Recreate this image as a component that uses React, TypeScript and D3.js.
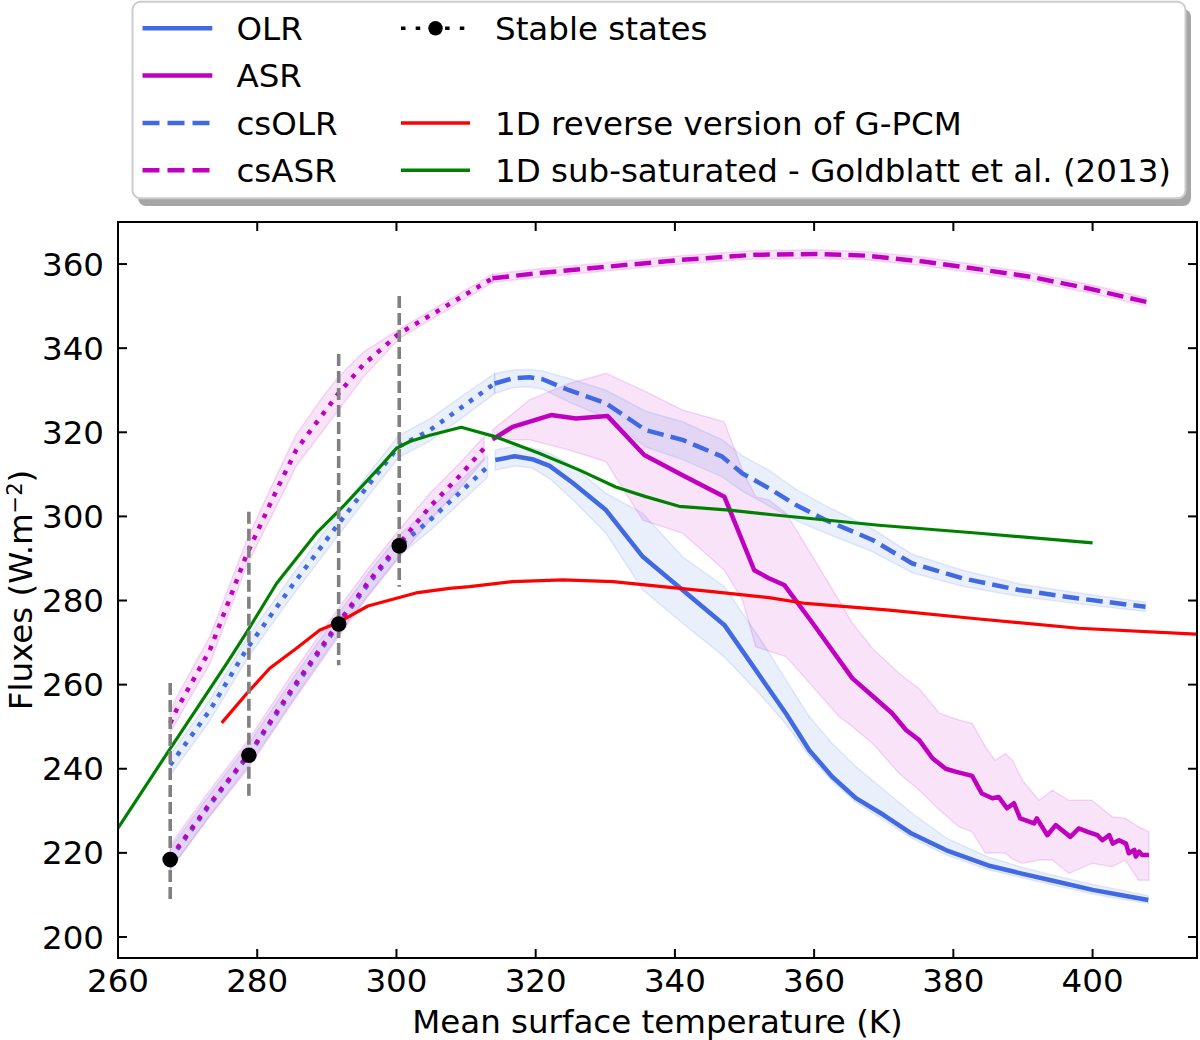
import * as d3 from 'd3';

// ---- data ----
// OLR, cold (dotted) branch
const olrColdT = [267.5, 273, 278.8, 285, 291.7, 296, 300.4, 304.8, 309, 313.1];
const olrCold = [218.5, 231, 243.3, 258.5, 274.4, 284, 293, 299.1, 305.5, 311.8];
const olrColdHi = [221, 233.5, 246, 261.2, 277, 286.6, 295.6, 301.8, 308.2, 314.5];
const olrColdLo = [216, 228.5, 240.8, 256, 272, 281.5, 290.6, 296.6, 303, 309.3];

// OLR, warm (solid) branch
const olrWarmT = [314.2, 317, 319.5, 322, 325.3, 330.1, 335.4, 341.1, 347.1, 352.6, 356, 359.3, 362.6, 366, 370, 374, 379, 385, 390, 394, 400, 404, 408];
const olrWarm = [313.4, 314.3, 313.6, 312, 308, 301.5, 290.4, 282.5, 274.2, 261.1, 253, 244.4, 238.1, 233, 229, 224.6, 220.6, 217, 215, 213.5, 211.2, 210, 208.8];
const olrWarmHi = [315.8, 316.7, 316.3, 315, 312, 305.5, 300.7, 290.4, 283.3, 270, 261, 252.4, 246, 240.5, 235, 229.5, 223.5, 219, 216.5, 214.8, 212.5, 211.2, 209.8];
const olrWarmLo = [311, 312, 311.5, 309, 304, 296, 282.5, 274.6, 266.6, 257, 250.5, 243, 237, 232, 227.8, 223.5, 219.5, 216, 214, 212.5, 210.2, 209, 208];

// ASR, cold (dotted) branch
const asrColdT = [267.5, 273, 278.8, 285, 291.7, 296, 300.4, 304.8, 309, 312.6];
const asrCold = [218.8, 231.3, 243.5, 259, 274.8, 284.5, 293.5, 302.3, 309.5, 316.2];
const asrColdHi = [221.8, 234.5, 247, 262.5, 278.2, 287.8, 296.8, 305.5, 312.5, 319];
const asrColdLo = [216, 228.3, 240.3, 255.6, 271.4, 281.2, 290.3, 299, 306.5, 313.4];

// ASR, warm (solid) branch
const asrWarmT = [313.8, 316.7, 322.2, 325.8, 330.3, 335.6, 341.1, 347.1, 351.4, 353.5, 355.7, 359.8, 365.5, 368.4, 371.2, 373.2, 375.1, 377, 378.9, 380.3, 382.7, 384.1, 385.6, 386.5, 387.7, 388.7, 389.6, 391.6, 392, 393.5, 394.7, 396.8, 398, 399.3, 400.7, 401.4, 402.4, 402.9, 403.8, 404.8, 405.2, 406, 406.2, 406.7, 407.1, 408.1];
const asrWarm = [318.3, 321.3, 324.1, 323.3, 323.9, 314.6, 309.8, 304.7, 287.2, 285.3, 283.7, 274.6, 261.5, 257.3, 253.2, 249.2, 246.8, 242.5, 240, 239.3, 238.3, 234.1, 233, 233.3, 230.6, 231.8, 228.2, 227, 228.2, 224.2, 226.6, 223.8, 225.8, 225, 224.2, 223, 224.2, 222.2, 223, 222.2, 219.9, 220.7, 219.1, 220.3, 219.5, 219.5];
const asrBandT = [313.8, 319.1, 324.8, 330.1, 335.4, 341.1, 347.1, 349.7, 351.6, 353.5, 356, 359.8, 363.6, 365.5, 368.4, 372.2, 375.1, 378, 380.8, 382.7, 384.6, 386, 387.5, 388.5, 389.9, 392.3, 394.2, 396.6, 399.9, 402.8, 404.7, 406.6, 408.1];
const asrBandHi = [320.5, 327.7, 331.6, 334, 330, 325.3, 322.5, 311, 304.7, 303.9, 300.7, 290.4, 280, 274.6, 268.6, 262.7, 259, 253.2, 251.6, 250.8, 245.2, 242, 243.6, 242, 237.3, 232.5, 234.9, 232.5, 232.5, 228.6, 228.2, 226.2, 225];
const asrBandLo = [318.2, 318.2, 315.8, 313, 299.1, 296, 287.2, 280.1, 269, 268, 266.6, 259.5, 252.4, 250, 246, 238.9, 234.9, 230.2, 226.2, 225, 219.9, 220, 219.9, 218.5, 217.5, 218.3, 218.3, 215.1, 217.5, 216.7, 218.3, 213.5, 213.5];

// clear-sky OLR
const csolrColdT = [267.5, 273.2, 278.5, 285, 291.7, 296, 300.3, 304.8, 309.5, 314.1];
const csolrCold = [240.9, 253.9, 268.5, 283.5, 298.3, 307.5, 316.6, 320.5, 326.1, 331.6];
const csolrColdHi = [243.4, 256.4, 271, 286, 301, 310.2, 319.2, 323.2, 328.7, 334];
const csolrColdLo = [238.4, 251.4, 266, 281, 295.6, 304.9, 314, 317.9, 323.5, 329.2];
const csolrWarmT = [314.1, 316.7, 319.1, 321, 324.8, 330.1, 335.8, 341.1, 346.8, 349.7, 353.5, 357.4, 361.7, 368.4, 374.1, 381.3, 389.4, 398, 407.6];
const csolrWarm = [331.6, 332.8, 333.1, 332.6, 330, 326.9, 320.5, 318.2, 314.2, 310.2, 306.7, 302.7, 299.1, 294.4, 288.8, 285.3, 282.5, 280.5, 278.5];
const csolrWarmHi = [334, 334.8, 334.9, 334.6, 332.8, 330, 325, 322.5, 318.2, 314.4, 311, 306.4, 302.5, 297, 291, 287.2, 284, 281.8, 279.6];
const csolrWarmLo = [329.2, 330.6, 330.8, 330.3, 327.2, 323.5, 316.5, 313.5, 309.4, 306, 302.5, 299, 296, 291.6, 286.6, 283.4, 281, 279.2, 277.4];

// clear-sky ASR
const csasrColdT = [267.5, 268.4, 273.2, 278.5, 282.8, 285.6, 289.5, 291.7, 295.2, 300.4, 306.2, 313.8];
const csasrCold = [250.8, 254, 268.2, 291, 306.3, 315.8, 324.5, 329.3, 336, 343.5, 349.1, 356.6];
const csasrColdHi = [253.5, 257, 271.5, 294.4, 309.8, 319.5, 328.6, 333.2, 339, 344.5, 350.2, 357.6];
const csasrColdLo = [248.5, 251.2, 265, 288.3, 302.5, 312, 320.5, 325.3, 333, 342.3, 348, 355.6];
const csasrWarmT = [313.8, 320.1, 330.5, 341, 351.4, 360.1, 367.4, 375.7, 382.7, 391, 399.4, 407.7];
const csasrWarm = [356.6, 357.8, 359.4, 361, 362.2, 362.4, 362, 360.6, 359, 357, 354.2, 351];
const csasrWarmHi = [357.6, 358.8, 360.4, 362, 363.2, 363.4, 363, 361.6, 360, 358, 355.2, 352];
const csasrWarmLo = [355.6, 356.8, 358.4, 360, 361.2, 361.4, 361, 359.6, 358, 356, 353.2, 350];

// 1D reverse version of G-PCM
const reverseT = [274.9, 278.5, 281.8, 285.6, 289, 291.8, 295.9, 302.8, 307.6, 310.5, 316.7, 323.9, 331.1, 338.2, 345.4, 353.5, 358.8, 370.8, 383.7, 398, 414.8, 420];
const reverse1D = [250.9, 257.9, 263.9, 268.6, 273, 274.9, 278.7, 281.8, 282.9, 283.3, 284.5, 284.9, 284.5, 283.3, 282.1, 280.7, 279.3, 277.7, 275.6, 273.4, 272, 271.7];

// 1D sub-saturated - Goldblatt et al. (2013)
const goldT = [260, 267.5, 275.6, 278.5, 282.8, 288.5, 292.3, 298.1, 300, 301.9, 304.8, 309.3, 314.3, 320.5, 326.3, 331.5, 335.8, 340.6, 347.8, 354, 369.3, 383.7, 400];
const goldblatt = [225.9, 244.8, 265, 272.5, 284.1, 296, 302.3, 312.6, 316.2, 317.8, 319.3, 321.2, 318.9, 315, 311, 307, 304.7, 302.4, 301.5, 300.4, 297.9, 296, 293.7];

// stable states and their ranges
const stableT = [267.5, 278.8, 291.7, 300.4];
const stableFlux = [218.4, 243.2, 274.4, 293];
const stableLo = [208.3, 233.3, 264.6, 283.3];
const stableHi = [260.4, 301.1, 338.6, 352.4];

const xTicks = [260, 280, 300, 320, 340, 360, 380, 400];
const yTicks = [200, 220, 240, 260, 280, 300, 320, 340, 360];

const W = 1200;
const H = 1040;
const BLUE = '#4169e1';
const MAG = '#bf00bf';
const FONT = "'DejaVu Sans', sans-serif";

export default function App() {
  const left = 118, right = 1197, top = 222, bottom = 958;
  const x = d3.scaleLinear().domain([260, 415]).range([left, right]);
  const y = d3.scaleLinear().domain([195, 370]).range([bottom, top]);

  const path = (ts: number[], vs: number[]) =>
    d3.line<number>().x((t) => x(t)).y((_, i) => y(vs[i]))(ts) || '';
  const band = (ts: number[], lo: number[], hi: number[]) =>
    d3.area<number>().x((t) => x(t)).y0((_, i) => y(lo[i])).y1((_, i) => y(hi[i]))(ts) || '';

  const dotted = '4.5 7.4';
  const dashed = '16.6 7.2';
  const lw = 4.5;

  const bands = [
    { d: band(olrColdT, olrColdLo, olrColdHi), c: BLUE },
    { d: band(olrWarmT, olrWarmLo, olrWarmHi), c: BLUE },
    { d: band(asrColdT, asrColdLo, asrColdHi), c: MAG },
    { d: band(asrBandT, asrBandLo, asrBandHi), c: MAG },
    { d: band(csolrColdT, csolrColdLo, csolrColdHi), c: BLUE },
    { d: band(csolrWarmT, csolrWarmLo, csolrWarmHi), c: BLUE },
    { d: band(csasrColdT, csasrColdLo, csasrColdHi), c: MAG },
    { d: band(csasrWarmT, csasrWarmLo, csasrWarmHi), c: MAG },
  ];

  const lines = [
    { d: path(olrWarmT, olrWarm), c: BLUE, dash: undefined, w: lw },
    { d: path(olrColdT, olrCold), c: BLUE, dash: dotted, w: lw },
    { d: path(asrWarmT, asrWarm), c: MAG, dash: undefined, w: lw },
    { d: path(asrColdT, asrCold), c: MAG, dash: dotted, w: lw },
    { d: path(csolrWarmT, csolrWarm), c: BLUE, dash: dashed, w: lw },
    { d: path(csolrColdT, csolrCold), c: BLUE, dash: dotted, w: lw },
    { d: path(csasrWarmT, csasrWarm), c: MAG, dash: dashed, w: lw },
    { d: path(csasrColdT, csasrCold), c: MAG, dash: dotted, w: lw },
    { d: path(reverseT, reverse1D), c: '#ff0000', dash: undefined, w: 3.2 },
    { d: path(goldT, goldblatt), c: '#008000', dash: undefined, w: 3.2 },
  ];

  const legendCol1 = [
    { label: 'OLR', c: BLUE, dash: undefined, w: 4.5 },
    { label: 'ASR', c: MAG, dash: undefined, w: 4.5 },
    { label: 'csOLR', c: BLUE, dash: '17 8', w: 4.5 },
    { label: 'csASR', c: MAG, dash: '17 8', w: 4.5 },
  ];
  const legendCol2 = [
    { row: 2, label: '1D reverse version of G-PCM', c: '#ff0000' },
    { row: 3, label: '1D sub-saturated - Goldblatt et al. (2013)', c: '#008000' },
  ];
  const rowY = [28.3, 75.6, 123, 170.3];
  const fs = 32.5;

  return (
    <svg width={W} height={H} style={{ position: 'absolute', left: 0, top: 0, background: '#fff' }} fontFamily={FONT}>
      <defs>
        <clipPath id="plot-clip">
          <rect x={left} y={top} width={right - left} height={bottom - top} />
        </clipPath>
      </defs>

      <g clipPath="url(#plot-clip)">
        {bands.map((b, i) => (
          <path key={'b' + i} d={b.d} fill={b.c} fillOpacity={0.11} stroke={b.c} strokeOpacity={0.13} strokeWidth={1.5} />
        ))}
        {lines.map((l, i) => (
          <path key={'l' + i} d={l.d} fill="none" stroke={l.c} strokeWidth={l.w} strokeDasharray={l.dash} strokeLinejoin="round" />
        ))}
        {stableT.map((t, i) => (
          <line key={'e' + i} x1={x(t)} x2={x(t)} y1={y(stableHi[i])} y2={y(stableLo[i])} stroke="#808080" strokeWidth={3.6} strokeDasharray="12 5" />
        ))}
        {stableT.map((t, i) => (
          <circle key={'s' + i} cx={x(t)} cy={y(stableFlux[i])} r={7.8} fill="#000" />
        ))}
      </g>

      {/* frame */}
      <rect x={left} y={top} width={right - left} height={bottom - top} fill="none" stroke="#000" strokeWidth={2} />

      {/* ticks (inward, all sides) */}
      {xTicks.map((t) => (
        <g key={'xt' + t}>
          <line x1={x(t)} x2={x(t)} y1={bottom} y2={bottom - 9} stroke="#000" strokeWidth={2} />
          <line x1={x(t)} x2={x(t)} y1={top} y2={top + 9} stroke="#000" strokeWidth={2} />
          <text x={x(t)} y={bottom + 34} textAnchor="middle" fontSize={fs}>{t}</text>
        </g>
      ))}
      {yTicks.map((t) => (
        <g key={'yt' + t}>
          <line x1={left} x2={left + 9} y1={y(t)} y2={y(t)} stroke="#000" strokeWidth={2} />
          <line x1={right} x2={right - 9} y1={y(t)} y2={y(t)} stroke="#000" strokeWidth={2} />
          <text x={left - 14} y={y(t) + 11.6} textAnchor="end" fontSize={fs}>{t}</text>
        </g>
      ))}

      {/* axis labels */}
      <text x={(left + right) / 2} y={1033} textAnchor="middle" fontSize={fs}>Mean surface temperature (K)</text>
      <text transform={`translate(32,${(top + bottom) / 2}) rotate(-90)`} textAnchor="middle" fontSize={fs}>
        Fluxes (W.m<tspan dy={-10} fontSize={21}>−2</tspan><tspan dy={10}>)</tspan>
      </text>

      {/* legend */}
      <g>
        <rect x={138} y={9} width={1053} height={197} rx={8} fill="#000" fillOpacity={0.35} />
        <rect x={132.5} y={1.8} width={1053} height={196.5} rx={8} fill="#fff" stroke="#cccccc" strokeWidth={2} />
        {legendCol1.map((it, i) => (
          <g key={'lg1' + i}>
            <line x1={142.5} x2={212.3} y1={rowY[i]} y2={rowY[i]} stroke={it.c} strokeWidth={it.w} strokeDasharray={it.dash} />
            <text x={236.5} y={rowY[i] + 11.8} fontSize={fs}>{it.label}</text>
          </g>
        ))}
        <line x1={401} x2={470} y1={rowY[0]} y2={rowY[0]} stroke="#000" strokeWidth={3.5} strokeDasharray="4.5 10.2" />
        <circle cx={435.5} cy={rowY[0]} r={7.2} fill="#000" />
        <text x={495} y={rowY[0] + 11.8} fontSize={fs}>Stable states</text>
        {legendCol2.map((it) => (
          <g key={'lg2' + it.row}>
            <line x1={401} x2={470} y1={rowY[it.row]} y2={rowY[it.row]} stroke={it.c} strokeWidth={3.5} />
            <text x={495} y={rowY[it.row] + 11.8} fontSize={fs}>{it.label}</text>
          </g>
        ))}
      </g>
    </svg>
  );
}
